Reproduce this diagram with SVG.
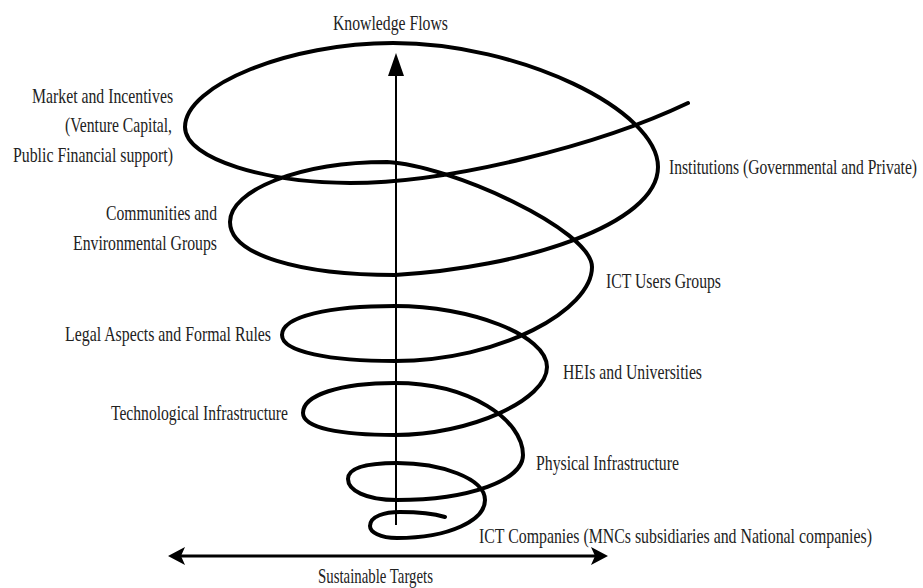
<svg xmlns="http://www.w3.org/2000/svg" width="923" height="588" viewBox="0 0 923 588">
<style>
text { font-family: "Liberation Serif", "Times New Roman", serif; font-size: 20px; fill: #222; }
.spiral { fill: none; stroke: #000; stroke-width: 4; stroke-linecap: round; stroke-linejoin: round; }
.axis { fill: none; stroke: #000; stroke-width: 2; }
.haxis { fill: none; stroke: #000; stroke-width: 3; }
.head { fill: #000; stroke: none; }
</style>
<rect width="923" height="588" fill="#fff"/>
<g id="connectors">
  <path id="spiral" class="spiral" d="M 688,103 C 600,145 450,183 350,183 C 270,183 185,160 185,127 C 185,85 290,43 393,43 C 520,43 658,110 658,167 C 658,225 520,268 395,275 C 300,275 230,255 230,222 C 230,190 300,162 387,162 C 450,165 592,230 592,267 C 592,310 500,361 395,361 C 330,361 282,352 282,335 C 282,316 330,306 395,306 C 470,306 547,335 547,367 C 547,400 470,435 395,435 C 340,435 303,428 303,413 C 303,395 340,383 395,383 C 470,383 523,420 523,455 C 523,480 470,500 397,500 C 365,500 348,490 348,479 C 348,468 365,463 397,463 C 440,463 485,478 485,500 C 485,520 450,538 397,538 C 380,538 370,532 370,526 C 370,516 385,512 400,512 C 420,512 435,514 445,517"/>
  <line class="axis" x1="396" y1="525" x2="396" y2="72"/>
  <path class="head" d="M 396,53 L 404,76 L 388,76 Z"/>
  <line class="haxis" x1="178" y1="556" x2="598" y2="556"/>
  <path class="head" d="M 168,556 L 185,547 L 181,556 L 185,565 Z"/>
  <path class="head" d="M 608,556 L 591,547 L 595,556 L 591,565 Z"/>
</g>
<g id="knowledge-flows" transform="translate(333,30) scale(0.78,1)"><text x="0" y="0" textLength="147.4" lengthAdjust="spacingAndGlyphs">Knowledge Flows</text></g>
<g id="market">
  <g transform="translate(32,103) scale(0.78,1)"><text x="0" y="0" textLength="180.8" lengthAdjust="spacingAndGlyphs">Market and Incentives</text></g>
  <g transform="translate(65,132) scale(0.78,1)"><text x="0" y="0" textLength="137.2" lengthAdjust="spacingAndGlyphs">(Venture Capital,</text></g>
  <g transform="translate(13,162) scale(0.78,1)"><text x="0" y="0" textLength="205.1" lengthAdjust="spacingAndGlyphs">Public Financial support)</text></g>
</g>
<g id="communities">
  <g transform="translate(106,220) scale(0.78,1)"><text x="0" y="0" textLength="142.3" lengthAdjust="spacingAndGlyphs">Communities and</text></g>
  <g transform="translate(73,250) scale(0.78,1)"><text x="0" y="0" textLength="184.6" lengthAdjust="spacingAndGlyphs">Environmental Groups</text></g>
</g>
<g id="legal" transform="translate(65,341) scale(0.78,1)"><text x="0" y="0" textLength="264.1" lengthAdjust="spacingAndGlyphs">Legal Aspects and Formal Rules</text></g>
<g id="technological" transform="translate(111,420) scale(0.78,1)"><text x="0" y="0" textLength="226.9" lengthAdjust="spacingAndGlyphs">Technological Infrastructure</text></g>
<g id="institutions" transform="translate(669,174) scale(0.78,1)"><text x="0" y="0" textLength="318" lengthAdjust="spacingAndGlyphs">Institutions (Governmental and Private)</text></g>
<g id="ict-users" transform="translate(606,288) scale(0.78,1)"><text x="0" y="0" textLength="147.4" lengthAdjust="spacingAndGlyphs">ICT Users Groups</text></g>
<g id="heis" transform="translate(563,379) scale(0.78,1)"><text x="0" y="0" textLength="178.2" lengthAdjust="spacingAndGlyphs">HEIs and Universities</text></g>
<g id="physical" transform="translate(536,470) scale(0.78,1)"><text x="0" y="0" textLength="183.3" lengthAdjust="spacingAndGlyphs">Physical Infrastructure</text></g>
<g id="ict-companies" transform="translate(479,543) scale(0.78,1)"><text x="0" y="0" textLength="503.8" lengthAdjust="spacingAndGlyphs">ICT Companies (MNCs subsidiaries and National companies)</text></g>
<g id="sustainable" transform="translate(318,583) scale(0.78,1)"><text x="0" y="0" textLength="147.4" lengthAdjust="spacingAndGlyphs">Sustainable Targets</text></g>
</svg>
